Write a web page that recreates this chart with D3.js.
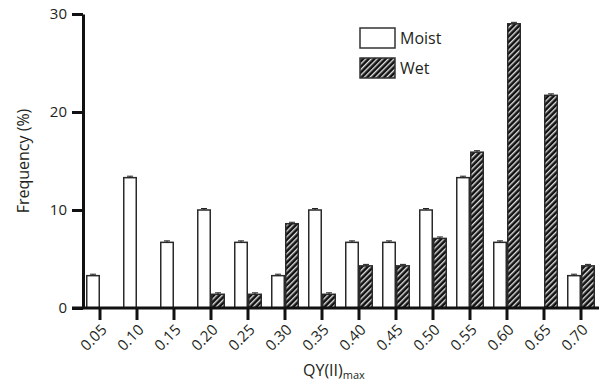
<!DOCTYPE html>
<html>
<head>
<meta charset="utf-8">
<script src="https://cdn.jsdelivr.net/npm/d3@7"></script>
<style>
  body { margin: 0; background: #fff; }
  text { font-family: "Open Sans", "Noto Sans", sans-serif; fill: #231f20; }
</style>
</head>
<body>
<div id="chart"></div>
<script>
// QY(II)max bins
const bins = ["0.05","0.10","0.15","0.20","0.25","0.30","0.35","0.40","0.45","0.50","0.55","0.60","0.65","0.70"];
const seriesNames = ["Moist", "Wet"];
const moist = [3.3, 13.3, 6.7, 10, 6.7, 3.3, 10, 6.7, 6.7, 10, 13.3, 6.7, 0, 3.3];
const wet   = [0, 0, 0, 1.4, 1.4, 8.6, 1.4, 4.3, 4.3, 7.1, 15.9, 29, 21.7, 4.3];
const errBar = 0.15;
const yTicks = [0, 10, 20, 30];

const W = 599, H = 386;
const svg = d3.select("#chart").append("svg")
    .attr("width", W).attr("height", H);

// hatch pattern for Wet
const defs = svg.append("defs");
const pat = defs.append("pattern")
    .attr("id", "hatch")
    .attr("patternUnits", "userSpaceOnUse")
    .attr("width", 4).attr("height", 4)
    .attr("patternTransform", "rotate(45)");
pat.append("rect").attr("width", 4).attr("height", 4).attr("fill", "#111");
pat.append("line")
    .attr("x1", 0).attr("y1", 0).attr("x2", 0).attr("y2", 4)
    .attr("stroke", "#e0e0e0").attr("stroke-width", 2.8);

const x = d3.scaleBand().domain(bins).range([81.5, 599.5]);
const xs = d3.scaleBand().domain(seriesNames).range([-14, 14]);
const y = d3.scaleLinear().domain([0, 30]).range([308, 14]);

const data = bins.map((b, i) => ({bin: b, values: [
  {key: "Moist", v: moist[i]},
  {key: "Wet", v: wet[i]}
]}));

const g = svg.append("g");

// bars
const grp = g.selectAll(".grp").data(data).enter().append("g")
    .attr("transform", d => "translate(" + (x(d.bin) + x.bandwidth() / 2) + ",0)");

const bar = grp.selectAll(".bar").data(d => d.values.filter(v => v.v > 0)).enter();

bar.append("rect")
    .attr("x", d => xs(d.key) + 0.75)
    .attr("width", xs.bandwidth() - 1.5)
    .attr("y", d => y(d.v))
    .attr("height", d => y(0) - y(d.v))
    .attr("fill", d => d.key === "Moist" ? "#fff" : "url(#hatch)")
    .attr("stroke", "#2a2a2a")
    .attr("stroke-width", 1.5);

// error caps
bar.append("line")
    .attr("x1", d => xs(d.key) + xs.bandwidth() / 2 - 3)
    .attr("x2", d => xs(d.key) + xs.bandwidth() / 2 + 3)
    .attr("y1", d => y(d.v + errBar))
    .attr("y2", d => y(d.v + errBar))
    .attr("stroke", "#222").attr("stroke-width", 1);
bar.append("line")
    .attr("x1", d => xs(d.key) + xs.bandwidth() / 2)
    .attr("x2", d => xs(d.key) + xs.bandwidth() / 2)
    .attr("y1", d => y(d.v + errBar))
    .attr("y2", d => y(d.v))
    .attr("stroke", "#222").attr("stroke-width", 1);

// y axis
const yAxis = g.append("g")
    .attr("transform", "translate(83,0)")
    .call(d3.axisLeft(y).tickValues(yTicks).tickSize(11).tickPadding(5).tickSizeOuter(0));
yAxis.select(".domain").attr("stroke", "#111").attr("stroke-width", 3);
yAxis.selectAll(".tick line").attr("stroke", "#111").attr("stroke-width", 3);
yAxis.selectAll(".tick text").style("font-size", "15px").attr("fill", "#231f20");

// x axis
const xAxis = g.append("g")
    .attr("transform", "translate(0," + y(0) + ")")
    .call(d3.axisBottom(x).tickSize(12).tickSizeOuter(0));
xAxis.select(".domain").remove();
xAxis.append("line")
    .attr("x1", 72).attr("x2", W)
    .attr("stroke", "#111").attr("stroke-width", 3);
xAxis.selectAll(".tick line").attr("stroke", "#111").attr("stroke-width", 3);
xAxis.selectAll(".tick text")
    .style("font-size", "15px")
    .attr("fill", "#231f20")
    .attr("text-anchor", "end")
    .attr("dy", "0.35em")
    .attr("transform", "translate(4,19) rotate(-45)")
    .attr("y", 0).attr("x", 0);

// axis titles
svg.append("text")
    .attr("transform", "translate(29," + ((y(0) + y(30)) / 2) + ") rotate(-90)")
    .attr("text-anchor", "middle")
    .style("font-size", "16px")
    .text("Frequency (%)");

const xt = svg.append("text")
    .attr("x", 303).attr("y", 376)
    .style("font-size", "16px")
    .text("QY(II)");
xt.append("tspan").attr("dy", 3).style("font-size", "11px").text("max");

// legend
const legend = svg.append("g").attr("transform", "translate(360,28)");
const li = legend.selectAll(".li").data(seriesNames).enter().append("g")
    .attr("transform", (d, i) => "translate(0," + i * 30 + ")");
li.append("rect")
    .attr("width", 35).attr("height", 20)
    .attr("fill", d => d === "Moist" ? "#fff" : "url(#hatch)")
    .attr("stroke", "#333").attr("stroke-width", 1.5);
li.append("text")
    .attr("x", 40).attr("y", 16)
    .style("font-size", "16px")
    .text(d => d);
</script>
</body>
</html>
